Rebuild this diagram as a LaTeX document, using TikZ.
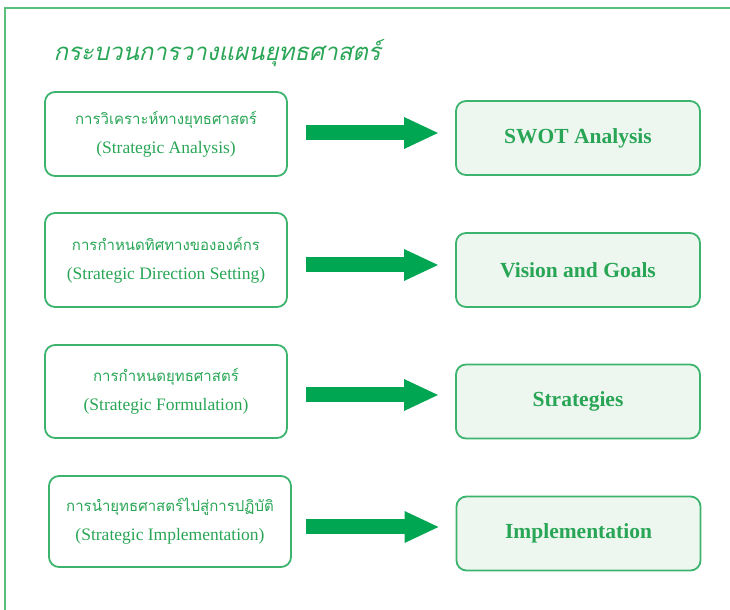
\documentclass[tikz,border=0pt]{standalone}
\usepackage{fontspec}
\setmainfont{Liberation Serif}
\newfontfamily\thaifont[Script=Thai]{Loma}
\newfontfamily\thaititle[Script=Thai,FakeSlant=0.22]{Loma}
\usetikzlibrary{arrows.meta}
\definecolor{framegreen}{RGB}{90,190,125}
\definecolor{boxgreen}{RGB}{60,180,110}
\definecolor{textgreen}{RGB}{40,165,85}
\definecolor{arrowgreen}{RGB}{0,166,81}
\definecolor{fillgreen}{RGB}{237,247,240}
\tikzset{
  stagebox/.style={draw=boxgreen,line width=1.8bp,rounded corners=10bp,
    minimum width=242bp,inner sep=0pt,align=center,text=textgreen,
    font=\fontsize{17.5bp}{29bp}\selectfont},
  resultbox/.style={draw=boxgreen,fill=fillgreen,line width=1.8bp,rounded corners=10bp,
    minimum width=244bp,minimum height=74bp,inner sep=0pt,text=textgreen,
    font=\fontsize{21.5bp}{24bp}\selectfont\bfseries},
  bigarrow/.style={arrowgreen,line width=15bp,
    -{Triangle[length=35bp,width=29bp]}},
}
\newcommand\thailine[1]{{\thaifont\fontsize{15bp}{29bp}\selectfont #1}}
\begin{document}
\begin{tikzpicture}[x=1bp,y=1bp]
\useasboundingbox (0,0) rectangle (730,610);
%%
\draw [framegreen,line width=1.5bp] (5,0) -- (5,602) -- (730,602);
\node (title) at (50,557) [anchor=west,text=textgreen,font=\fontsize{24bp}{30bp}\selectfont\thaititle]
  {กระบวนการวางแผนยุทธศาสตร์};
%
\node (l1) at (166,476) [stagebox,minimum height=84bp]
  {\thailine{การวิเคราะห์ทางยุทธศาสตร์}\\(Strategic Analysis)};
\node (l2) at (166,350) [stagebox,minimum height=94bp]
  {\thailine{การกำหนดทิศทางขององค์กร}\\(Strategic Direction Setting)};
\node (l3) at (166,218.5) [stagebox,minimum height=93bp]
  {\thailine{การกำหนดยุทธศาสตร์}\\(Strategic Formulation)};
\node (l4) at (170,88.5) [stagebox,minimum height=91bp]
  {\thailine{การนำยุทธศาสตร์ไปสู่การปฏิบัติ}\\(Strategic Implementation)};
%
\node (r1) at (578,472) [resultbox] {SWOT Analysis};
\node (r2) at (578,340) [resultbox] {Vision and Goals};
\node (r3) at (578,208.5) [resultbox] {Strategies};
\node (r4) at (578.5,76.5) [resultbox] {Implementation};
%
\coordinate (a1) at (0,477);
\coordinate (a2) at (0,345);
\coordinate (a3) at (0,215);
\coordinate (a4) at (0,83);
\draw [bigarrow,shorten <=18bp,shorten >=16bp] (l1.east |- a1) -- (r1.west |- a1);
\draw [bigarrow,shorten <=18bp,shorten >=16bp] (l2.east |- a2) -- (r2.west |- a2);
\draw [bigarrow,shorten <=18bp,shorten >=16bp] (l3.east |- a3) -- (r3.west |- a3);
\draw [bigarrow,shorten <=14bp,shorten >=16bp] (l4.east |- a4) -- (r4.west |- a4);
%
\end{tikzpicture}
\end{document}
